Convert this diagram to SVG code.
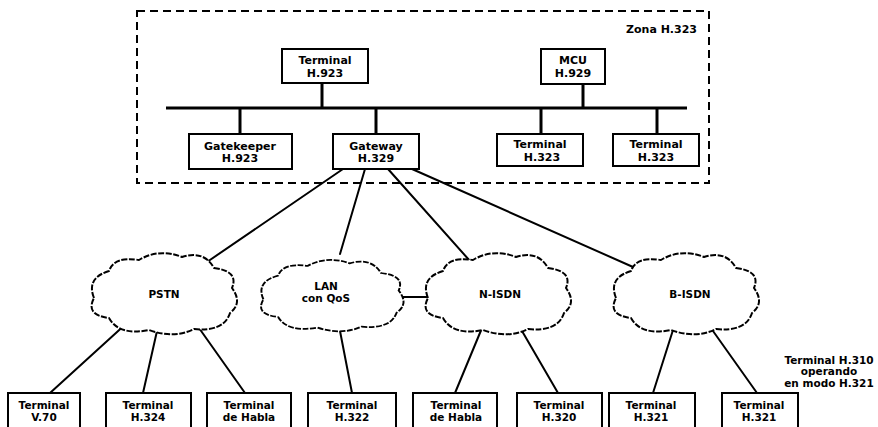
<svg xmlns="http://www.w3.org/2000/svg" xmlns:xlink="http://www.w3.org/1999/xlink" width="878" height="427" viewBox="0 0 878 427">
  <style>
    .box { fill: #fff; stroke: #000; stroke-width: 2; }
    .t { font-family: "DejaVu Sans", "Liberation Sans", sans-serif; font-weight: bold; fill: #000; text-anchor: middle; }
    .zt { font-size: 11px; }
    .bt { font-size: 10.5px; }
    .ln { stroke: #000; stroke-width: 2; fill: none; stroke-linecap: round; }
    .bus { stroke: #000; stroke-width: 3; fill: none; }
    .zone { fill: none; stroke: #000; stroke-width: 2; stroke-dasharray: 8 5; }
    .cloud { fill: #fff; stroke: #000; stroke-width: 2; stroke-dasharray: 6 1.6; stroke-linejoin: round; }
  </style>
  <defs>
    <!-- generic cloud outline, centred on the origin, about 145 x 80 -->
    <path id="cloudShape" d="M -70,5 Q -78,-15 -55,-22 Q -50,-37 -25,-33 Q -5,-45 18,-36 Q 40,-43 50,-25 Q 75,-22 68,-5 Q 79,10 66,20 Q 60,39 30,36 Q 10,46 -15,37 Q -45,43 -55,25 Q -79,22 -70,5 Z"/>
  </defs>
  <rect width="878" height="427" fill="#fff"/>

  <!-- H.323 zone boundary -->
  <g id="zone">
    <rect class="zone" x="137" y="11" width="572" height="172"/>
    <text class="t zt" x="697" y="33" style="text-anchor:end">Zona H.323</text>
  </g>

  <!-- connectors -->
  <g id="connectors">
    <line class="bus" x1="166" y1="108" x2="687" y2="108"/>
    <line class="bus" x1="322" y1="83" x2="322" y2="108"/>
    <line class="bus" x1="583" y1="84" x2="583" y2="108"/>
    <line class="bus" x1="240" y1="108" x2="240" y2="134"/>
    <line class="bus" x1="376" y1="108" x2="376" y2="134"/>
    <line class="bus" x1="541" y1="108" x2="541" y2="134"/>
    <line class="bus" x1="657" y1="108" x2="657" y2="134"/>
    <!-- gateway to networks -->
    <line class="ln" x1="343" y1="169" x2="207" y2="262"/>
    <line class="ln" x1="365" y1="169" x2="340" y2="254"/>
    <line class="ln" x1="388" y1="169" x2="470" y2="261"/>
    <line class="ln" x1="412" y1="169" x2="633" y2="267"/>
    <!-- LAN to N-ISDN -->
    <line class="ln" x1="402" y1="297" x2="427" y2="297"/>
    <!-- networks to terminals -->
    <line class="ln" x1="128" y1="322" x2="50" y2="393"/>
    <line class="ln" x1="157" y1="331" x2="143" y2="393"/>
    <line class="ln" x1="199" y1="328" x2="245" y2="393"/>
    <line class="ln" x1="340" y1="331" x2="352" y2="393"/>
    <line class="ln" x1="482" y1="328" x2="455" y2="393"/>
    <line class="ln" x1="522" y1="331" x2="558" y2="393"/>
    <line class="ln" x1="673" y1="330" x2="653" y2="393"/>
    <line class="ln" x1="713" y1="331" x2="757" y2="393"/>
  </g>

  <!-- zone nodes -->
  <g id="terminal-top">
    <rect class="box" x="282" y="49" width="86" height="34"/>
    <text class="t zt" x="325" y="64">Terminal</text>
    <text class="t zt" x="325" y="77">H.923</text>
  </g>
  <g id="mcu">
    <rect class="box" x="541" y="49" width="64" height="35"/>
    <text class="t zt" x="573" y="64">MCU</text>
    <text class="t zt" x="573" y="77">H.929</text>
  </g>
  <g id="gatekeeper">
    <rect class="box" x="189" y="134" width="103" height="35"/>
    <text class="t zt" x="240" y="150">Gatekeeper</text>
    <text class="t zt" x="240" y="162">H.923</text>
  </g>
  <g id="gateway">
    <rect class="box" x="333" y="134" width="86" height="35"/>
    <text class="t zt" x="376" y="150">Gateway</text>
    <text class="t zt" x="376" y="162">H.329</text>
  </g>
  <g id="terminal-h323-a">
    <rect class="box" x="497" y="134" width="86" height="32"/>
    <text class="t zt" x="540" y="148">Terminal</text>
    <text class="t zt" x="542" y="161">H.323</text>
  </g>
  <g id="terminal-h323-b">
    <rect class="box" x="613" y="134" width="86" height="32"/>
    <text class="t zt" x="656" y="148">Terminal</text>
    <text class="t zt" x="656" y="161">H.323</text>
  </g>

  <!-- networks -->
  <g id="pstn">
    <use xlink:href="#cloudShape" class="cloud" transform="translate(164,293)"/>
    <text class="t bt" x="164" y="298">PSTN</text>
  </g>
  <g id="lan">
    <use xlink:href="#cloudShape" class="cloud" transform="translate(332,295) scale(0.98,0.88)"/>
    <text class="t bt" x="326" y="290">LAN</text>
    <text class="t bt" x="326" y="302">con QoS</text>
  </g>
  <g id="n-isdn">
    <use xlink:href="#cloudShape" class="cloud" transform="translate(498,293)"/>
    <text class="t bt" x="500" y="298">N-ISDN</text>
  </g>
  <g id="b-isdn">
    <use xlink:href="#cloudShape" class="cloud" transform="translate(686,293)"/>
    <text class="t bt" x="690" y="298">B-ISDN</text>
  </g>

  <!-- end terminals -->
  <g id="terminal-v70">
    <rect class="box" x="8" y="393" width="72" height="40"/>
    <text class="t bt" x="44" y="409">Terminal</text>
    <text class="t bt" x="44" y="421">V.70</text>
  </g>
  <g id="terminal-h324">
    <rect class="box" x="106" y="393" width="85" height="40"/>
    <text class="t bt" x="148" y="409">Terminal</text>
    <text class="t bt" x="148" y="421">H.324</text>
  </g>
  <g id="terminal-habla-1">
    <rect class="box" x="207" y="393" width="84" height="40"/>
    <text class="t bt" x="249" y="409">Terminal</text>
    <text class="t bt" x="249" y="421">de Habla</text>
  </g>
  <g id="terminal-h322">
    <rect class="box" x="308" y="393" width="88" height="40"/>
    <text class="t bt" x="352" y="409">Terminal</text>
    <text class="t bt" x="352" y="421">H.322</text>
  </g>
  <g id="terminal-habla-2">
    <rect class="box" x="413" y="393" width="84" height="40"/>
    <text class="t bt" x="456" y="409">Terminal</text>
    <text class="t bt" x="456" y="421">de Habla</text>
  </g>
  <g id="terminal-h320">
    <rect class="box" x="517" y="393" width="85" height="40"/>
    <text class="t bt" x="559" y="409">Terminal</text>
    <text class="t bt" x="559" y="421">H.320</text>
  </g>
  <g id="terminal-h321-a">
    <rect class="box" x="609" y="393" width="86" height="40"/>
    <text class="t bt" x="651" y="409">Terminal</text>
    <text class="t bt" x="651" y="421">H.321</text>
  </g>
  <g id="terminal-h321-b">
    <rect class="box" x="722" y="393" width="76" height="40"/>
    <text class="t bt" x="759" y="409">Terminal</text>
    <text class="t bt" x="759" y="421">H.321</text>
  </g>

  <!-- note on the H.310 terminal -->
  <g id="note-h310">
    <text class="t bt" x="829" y="364">Terminal H.310</text>
    <text class="t bt" x="829" y="375">operando</text>
    <text class="t bt" x="829" y="387">en modo H.321</text>
  </g>
</svg>
